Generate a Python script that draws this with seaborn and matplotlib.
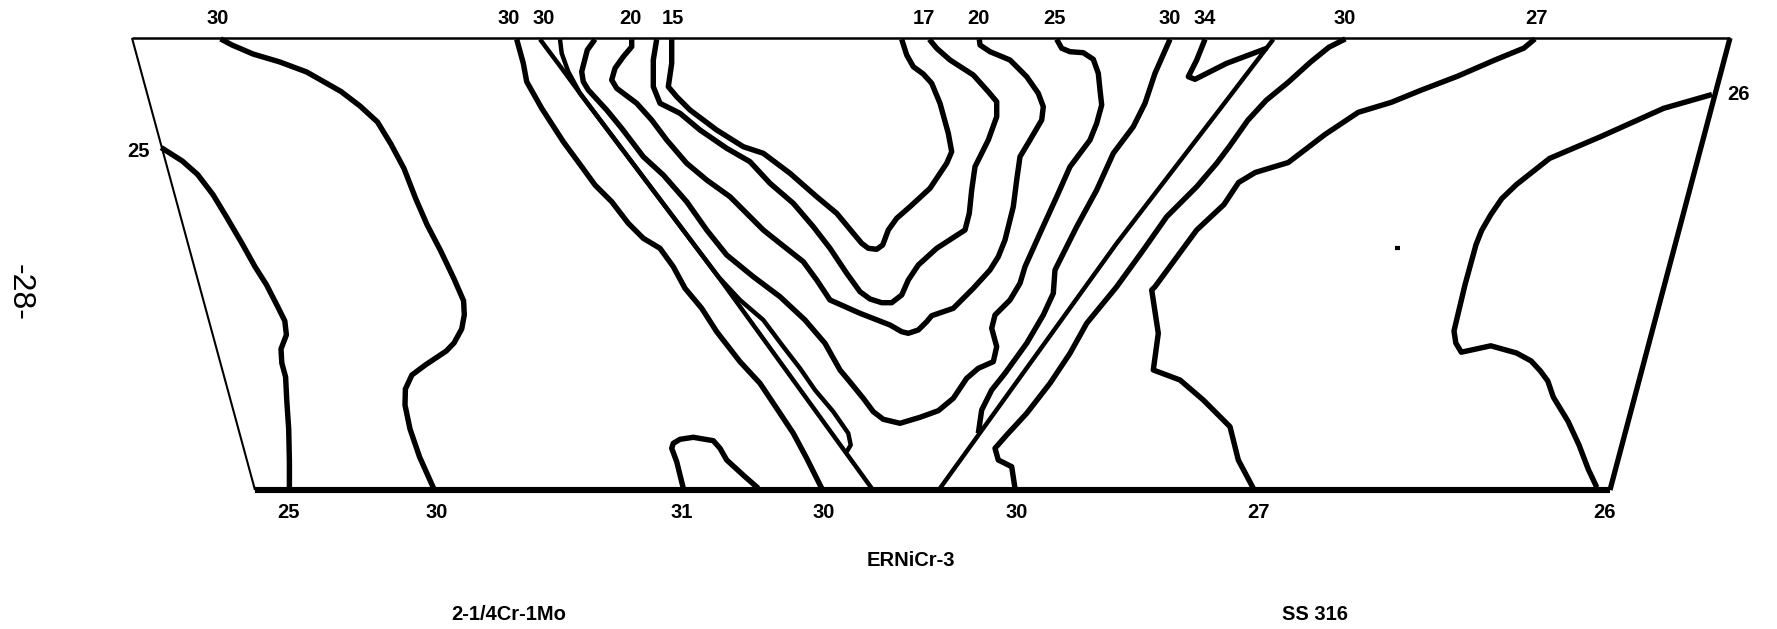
import matplotlib
matplotlib.use("Agg")
import matplotlib.pyplot as plt
import pandas as pd
import seaborn as sns

# Frame corners (image-pixel units)
frame_top_x = [132, 1730]; frame_top_y = [38, 38]
frame_left_x = [132, 255]; frame_left_y = [38, 490]
frame_bottom_x = [255, 1610]; frame_bottom_y = [490, 490]
frame_right_x = [1610, 1730]; frame_right_y = [490, 38]

a_x = [161.2,182.3,197.6,212.9,226.3,241.6,255,266.5,276.8,284.8,286.4,281,281.8,285.6,286.8,288.7,289.4,289.4]
a_y = [147.6,161,174.5,194.5,216.6,242.7,266.7,284.8,304.9,320.9,334.9,349,363,377,401,429,461,487]

b_x = [220.6,232,253,279.9,306.7,341,360,377.5,390.9,404,415.7,427,440.6,454,463.6,464.3,461.7,454,446.3,425.3,411.9,405.4,405,410,419.6,433.7]
b_y = [38.9,45,54,62,72,91.5,106,122,144,168.5,198.6,224.6,250.7,278.8,300.8,314.9,329,343,351,365,375,389,405,429,457,488.5]

c_x = [516.7,523.3,526.7,541.7,563.3,581.7,595,611.7,628.3,643.3,660,673.3,685,701.7,716.7,740,760,776.7,793.3,806.7,821.7]
c_y = [39.3,63.3,81.7,108.3,141.7,166.7,185,201.7,223.3,238.3,248.3,266.7,288.3,308.3,331.7,361.7,383.3,408.3,433.3,458.3,488.3]

d_x = [540,561.7,580,718.3,871.7]
d_y = [39.3,68.3,93.3,276.7,488.3]

e_x = [560,561.7,568.3,580,718.3,740,763.3,783.3,800,815,833.3,848.3,850.7,846.7]
e_y = [39.3,53.3,71.7,93.3,276.7,300,320,346.7,368.3,390,411.7,433.3,445,451.7]

f_x = [595,587.3,581.7,583.3,588.3,606.7,621.7,643.3,663.3,686.7,706.7,726.7,753.3,780,805,825,840,850,863.3,873.3,883.3,900,920,938.3,953.3,966.7,978.3,993.3,996.7,991.7,995,1010,1020,1025,1040,1056.7,1070,1090,1096.7,1101.7,1100,1098.3,1093.3,1083.3,1070,1061.7,1056.7]
f_y = [39.3,50,71.7,81.7,90,110,128.3,156.7,175,201.7,230,255,276.7,296.7,320,343.3,370,382,398.3,411.7,419.3,423.3,417.3,410.7,398.3,378.3,368.3,361.7,346.7,328.3,315,300,283.3,266.7,233.3,196.7,166.7,140,123.3,105,90,73.3,59.3,52.7,51.7,48.3,39.3]

g_x = [631.7,631.7,623.3,615,611.7,616.7,636.7,651.7,666.7,686.7,706.7,730,750,763.3,780,803.3,816.7,830,860,890,901.7,908.3,918.3,926.7,931.7,953.3,973.3,990,998.3,1005,1013.3,1016.7,1020,1030,1041.7,1043.3,1038.3,1026.7,1010,990,980,979.3]
g_y = [39.3,46.7,56.7,68.3,80,88.3,103.3,120,140,163.3,180,196.7,216.7,230,243.3,261.7,280,300,313.3,325,331.7,333.3,330,321.7,315.7,308.3,288.3,270,256.7,240,206.7,180,156.7,140,120,106.7,93.3,76.7,60,51.7,45,39.3]

h_x = [656.7,653.3,653.3,660,680,700,726.7,750,770,793.3,813.3,830,846.7,860,870,881.7,891.7,901.7,908.3,918.3,936.7,965,969.3,971.7,975,988.3,996.7,996.7,988.3,973.3,950,936.7,929.3]
h_y = [39.3,60,86.7,103.3,113.3,130,148.3,161.7,183.3,203.3,226.7,248.3,273.3,291.7,299,302.7,302.7,295,280,265,248.3,230,213.3,190,166.7,140,116.7,101.7,91.7,75,60,48.3,39.3]

i_x = [671.7,671.7,668.3,676.7,690,716.7,743.3,763.3,790,816.7,836.7,853.3,861.7,868.3,876.7,882.7,888.3,896.7,910,930,946.7,951.7,948.3,940,931.7,923.3,913.3,906.7,901.7]
i_y = [39.3,63.3,86.7,96.7,110,130,146.7,153.3,173.3,196.7,213.3,233.3,243.3,248.3,249.3,245,230,218.3,206.7,188.3,163.3,151.7,133.3,103.3,83.3,74,66.7,55,39.3]

j_x = [1170,1155,1145,1133.3,1113.3,1096.7,1076.7,1055,1053.3,1043.3,1026.7,1005,991.7,981.7,978.3]
j_y = [39.3,73.3,103.3,126.7,153.3,190,226.7,270,293.3,315,343.3,373.3,390,410,433.3]

k_x = [1273.3,1216.7,1116.7,940]
k_y = [39.3,113.3,243.3,488.3]

l_x = [1205,1196.7,1188.3,1195,1226.7,1266.7]
l_y = [39.3,60,76.7,79.3,63.3,48.3]

m_x = [1345.4,1328.8,1310.4,1288.3,1266.2,1247.8,1229.4,1216.7,1196.7,1166.7,1143.3,1116.7,1086.7,1070,1050,1026.7,1006.7,995,998.3,1011.7,1015]
m_y = [38.9,47.3,62.2,82.2,100.3,120.3,146.4,163.3,186.7,216.7,250,286.7,323.3,353.3,383.3,413.3,435,448.3,460,466.7,488.3]

n_x = [1534.9,1523.9,1494.4,1457.6,1420.8,1391.4,1358.3,1325.1,1288.3,1255.2,1238.6,1223.9,1196.7,1155,1151.7,1158.3,1153.3,1180,1203.3,1230,1238.3,1253.3]
n_y = [38.9,48.1,60.2,76.2,90.3,102.3,112.3,134.4,162.5,172.5,182.5,204.6,230,286.7,290,333.3,370,380,400,426.7,460,488.3]

o_x = [1712,1663.7,1601.2,1549.6,1516.5,1501.8,1490.8,1481.6,1476,1465,1454,1455.8,1461.3,1472.4,1490.8,1516.5,1531.2,1540.4,1547.8,1553.3,1568,1579.1,1588.3,1596.8]
o_y = [94.5,108.3,136.4,158.4,184.5,198.6,214.6,230.6,244.7,284.8,330.9,343,352.2,349.8,345.8,353,361,371,381,397.1,421.2,445.2,469.3,487.4]

p_x = [683.3,676.7,671.7,673.3,680,693.3,713.3,720,726.7,745,758.3]
p_y = [488.3,461.7,448.3,443.3,439.3,437.3,440.7,448.3,460,476.7,488.3]

speck_x = [1394.5, 1399.5]
speck_y = [247.5, 247.5]

top_labels = ["30","30","30","20","15","17","20","25","30","34","30","27"]
top_pos = [217.6,509,544,630,673,924,978,1054,1170,1205,1345,1537]
bottom_labels = ["25","30","31","30","30","27","26"]
bottom_pos = [289,436.8,681.7,824,1016.7,1258,1604]
left_label = "25"
right_label = "26"
center_title = "ERNiCr-3"
left_title = "2-1/4Cr-1Mo"
right_title = "SS 316"
page_number = "-28-"

sns.set_theme(style="white", rc={"axes.grid": False})
plt.rcParams["font.family"] = ["Liberation Sans", "DejaVu Sans"]

fig = plt.figure(figsize=(17.77, 6.29), dpi=100, facecolor="white")
ax = fig.add_axes([0, 0, 1, 1])

def draw(x, y, lw):
    df = pd.DataFrame({"x": x, "y": y})
    sns.lineplot(data=df, x="x", y="y", sort=False, estimator=None, color="black",
                 linewidth=lw, ax=ax, solid_joinstyle="round", solid_capstyle="butt")

draw(frame_top_x, frame_top_y, 1.8)
draw(frame_left_x, frame_left_y, 1.5)
draw(frame_bottom_x, frame_bottom_y, 4.4)
draw(frame_right_x, frame_right_y, 3.8)
for x, y in [(a_x,a_y),(b_x,b_y),(c_x,c_y),(f_x,f_y),(g_x,g_y),(h_x,h_y),(i_x,i_y),
             (j_x,j_y),(l_x,l_y),(m_x,m_y),(n_x,n_y),(o_x,o_y),(p_x,p_y)]:
    draw(x, y, 3.9)
for x, y in [(d_x,d_y),(e_x,e_y),(k_x,k_y)]:
    draw(x, y, 3.2)
draw(speck_x, speck_y, 3.0)

kw = dict(ha="center", va="center", color="black", fontsize=14.5, fontweight="bold")
for t, x in zip(top_labels, top_pos):
    ax.text(x, 18.5, t, **kw)
for t, x in zip(bottom_labels, bottom_pos):
    ax.text(x, 513, t, **kw)
ax.text(138.3, 151.6, left_label, **kw)
ax.text(1738.5, 95, right_label, **kw)
kw2 = dict(kw, fontsize=14.5)
ax.text(911, 560.5, center_title, **kw2)
ax.text(508.7, 614, left_title, **kw2)
ax.text(1314.8, 614, right_title, **kw2)
ax.text(20, 292, page_number, rotation=270, ha="center", va="center", color="black", fontsize=23)

ax.set_xlim(0, 1777)
ax.set_ylim(629, 0)
ax.axis("off")
fig.savefig("out.png", dpi=100, facecolor="white")
